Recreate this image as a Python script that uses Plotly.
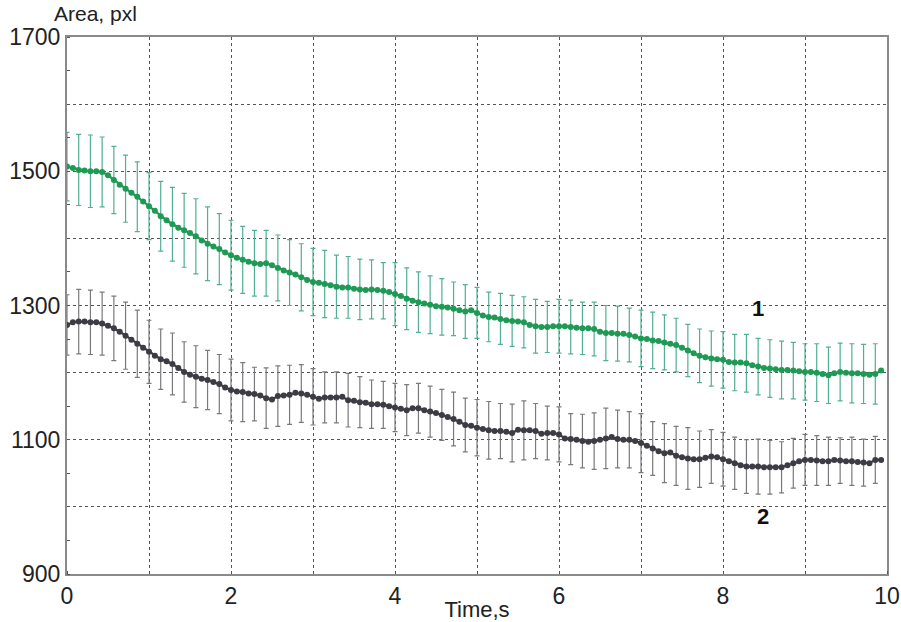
import plotly.graph_objects as go

# time step of the recorded points (s) and number of points
dt = 1 / 14
n_points = 140
time_s = [k * dt for k in range(n_points)]

# Curve 1 (green) mean area, pxl
area1 = [1507, 1505, 1502, 1501, 1500, 1500, 1499, 1494, 1487, 1480,
         1474, 1468, 1462, 1455, 1448, 1441, 1433, 1427, 1421, 1416,
         1412, 1408, 1403, 1397, 1392, 1388, 1384, 1379, 1375, 1371,
         1368, 1365, 1363, 1362, 1363, 1360, 1356, 1352, 1349, 1346,
         1342, 1338, 1335, 1334, 1332, 1330, 1328, 1327, 1327, 1325,
         1324, 1323, 1324, 1323, 1322, 1320, 1317, 1314, 1310, 1307,
         1305, 1303, 1301, 1299, 1298, 1297, 1295, 1293, 1291, 1293,
         1289, 1285, 1283, 1282, 1280, 1278, 1277, 1276, 1275, 1271,
         1269, 1268, 1268, 1269, 1269, 1269, 1268, 1267, 1266, 1266,
         1265, 1261, 1259, 1259, 1258, 1258, 1256, 1254, 1251, 1250,
         1248, 1247, 1245, 1243, 1241, 1237, 1233, 1229, 1225, 1223,
         1221, 1220, 1219, 1216, 1215, 1215, 1214, 1211, 1209, 1207,
         1206, 1205, 1204, 1204, 1203, 1202, 1201, 1201, 1200, 1198,
         1196, 1199, 1201, 1200, 1199, 1199, 1198, 1197, 1198, 1203]

# Curve 2 (dark grey) mean area, pxl
area2 = [1271, 1275, 1276, 1276, 1275, 1275, 1273, 1270, 1266, 1261,
         1255, 1249, 1243, 1237, 1231, 1225, 1220, 1217, 1213, 1207,
         1201, 1197, 1194, 1191, 1189, 1186, 1183, 1178, 1174, 1172,
         1171, 1169, 1168, 1166, 1162, 1160, 1165, 1166, 1167, 1170,
         1169, 1167, 1164, 1161, 1163, 1163, 1163, 1164, 1159, 1158,
         1156, 1155, 1153, 1153, 1152, 1150, 1148, 1146, 1144, 1147,
         1147, 1144, 1142, 1140, 1137, 1134, 1131, 1127, 1122, 1121,
         1118, 1116, 1114, 1113, 1113, 1112, 1110, 1115, 1114, 1114,
         1113, 1109, 1110, 1110, 1108, 1102, 1101, 1100, 1098, 1097,
         1098, 1100, 1102, 1104, 1101, 1100, 1100, 1098, 1095, 1091,
         1087, 1083, 1080, 1081, 1076, 1074, 1072, 1071, 1071, 1073,
         1075, 1074, 1071, 1068, 1065, 1062, 1060, 1060, 1060, 1059,
         1059, 1059, 1059, 1062, 1065, 1068, 1070, 1070, 1069, 1068,
         1068, 1070, 1069, 1068, 1068, 1067, 1066, 1065, 1070, 1070]

# error-bar half widths, drawn at every second point
err1 = [51, 53, 54, 52, 50, 50, 52, 50, 52, 55,
        55, 56, 55, 53, 52, 50, 49, 49, 49, 49,
        50, 50, 50, 47, 46, 45, 44, 42, 47, 46,
        45, 43, 42, 40, 40, 38, 37, 38, 38, 38,
        40, 38, 40, 40, 39, 40, 41, 41, 40, 42,
        42, 41, 40, 39, 40, 41, 42, 42, 43, 42,
        43, 43, 42, 42, 43, 42, 43, 44, 44, 45]
err2 = [45, 48, 48, 47, 48, 50, 50, 47, 45, 46,
        45, 46, 44, 44, 46, 44, 40, 45, 45, 44,
        43, 42, 38, 38, 40, 38, 36, 35, 36, 38,
        37, 38, 38, 40, 40, 42, 43, 41, 43, 44,
        41, 40, 41, 38, 40, 42, 45, 43, 42, 44,
        40, 44, 44, 46, 42, 40, 40, 39, 40, 41,
        40, 38, 37, 38, 37, 36, 34, 36, 35, 35]

x_ticks = list(range(0, 11))
x_labels = [str(v) if v % 2 == 0 else "" for v in x_ticks]
y_ticks = list(range(900, 1701, 100))
y_labels = [str(v) if (v - 900) % 200 == 0 else "" for v in y_ticks]

green = "#1f9a55"
green_err = "#52ae94"
dark = "#3c3c44"
dark_err = "#7a7a7e"
FONT = "Liberation Sans, Arial"

fig = go.Figure()

for y, err, c_line, c_err, name in [(area1, err1, green, green_err, "1"),
                                    (area2, err2, dark, dark_err, "2")]:
    fig.add_trace(go.Scatter(
        x=time_s[::2], y=y[::2], mode="markers",
        marker=dict(size=1, color="rgba(0,0,0,0)"),
        error_y=dict(type="data", array=err, visible=True,
                     color=c_err, thickness=1.2, width=2.5),
        showlegend=False, hoverinfo="skip"))
    fig.add_trace(go.Scatter(
        x=time_s, y=y, mode="lines+markers", name=name,
        line=dict(color=c_line, width=2.2),
        marker=dict(color=c_line, size=6),
        showlegend=False))

fig.add_annotation(x=8.43, y=1295, text="<b>1</b>", showarrow=False,
                   font=dict(size=22, color="#111111", family=FONT))
fig.add_annotation(x=8.49, y=985, text="<b>2</b>", showarrow=False,
                   font=dict(size=22, color="#111111", family=FONT))
fig.add_annotation(xref="paper", yref="paper", x=-0.018, y=1.043,
                   xanchor="left", yanchor="middle", text="Area, pxl",
                   showarrow=False,
                   font=dict(size=21, color="#222222", family=FONT))

axis_common = dict(
    showgrid=True, gridcolor="#555555", griddash="dot", gridwidth=1,
    showline=True, linecolor="#8a8a8a", linewidth=2, mirror=True,
    zeroline=False, ticks="", tickfont=dict(size=23, color="#222222",
                                            family=FONT),
)

fig.update_xaxes(range=[0, 10], tickmode="array", tickvals=x_ticks,
                 ticktext=x_labels,
                 title=dict(text="Time,s", standoff=0,
                            font=dict(size=22, color="#222222", family=FONT)),
                 minor=dict(ticks="inside", tickmode="array",
                            tickvals=x_ticks, ticklen=3, tickcolor="#555555",
                            showgrid=False),
                 **axis_common)
fig.update_yaxes(range=[900, 1700], tickmode="array", tickvals=y_ticks,
                 ticktext=y_labels,
                 minor=dict(ticks="inside", dtick=50, tick0=900, ticklen=3,
                            tickcolor="#555555", showgrid=False),
                 **axis_common)

fig.update_layout(
    width=901, height=622,
    margin=dict(l=67, r=14, t=37, b=48, autoexpand=False),
    paper_bgcolor="white", plot_bgcolor="white",
    font=dict(family=FONT),
)

fig.write_html("out.html")
